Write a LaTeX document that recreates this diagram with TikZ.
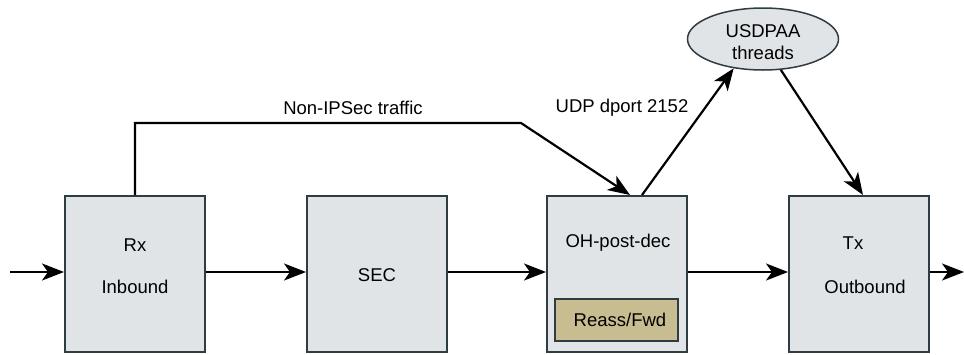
\documentclass[tikz,border=0pt]{standalone}
\usepackage{fontspec}
\setmainfont{Liberation Sans}
\usetikzlibrary{arrows.meta,shapes.geometric,calc}
\definecolor{boxfill}{HTML}{E0E4E7}
\definecolor{boxline}{HTML}{2E3C43}
\definecolor{tan}{HTML}{C8BD90}
\tikzset{
  blk/.style={draw=boxline,line width=2pt,fill=boxfill,minimum width=140pt,minimum height=156pt,inner sep=0pt},
  lbl/.style={font=\fontsize{18.5}{22}\selectfont,inner sep=0pt},
  conn/.style={line width=2.2pt,-{Stealth[length=22pt,width=17pt,inset=6pt]}},
  plain/.style={line width=2.2pt}
}
\begin{document}
\begin{tikzpicture}[x=1pt,y=-1pt]
\useasboundingbox (0,0) rectangle (964,354);
\node[blk] (rx) at (135,274) {};
\node[blk] (sec) at (377,274) {};
\node[blk] (oh) at (617,274) {};
\node[blk] (tx) at (859,274) {};
\node[draw=boxline,line width=1.5pt,fill=tan,minimum width=123pt,minimum height=42pt,inner sep=0pt] (reass) at (616.5,320) {};
\node[draw=boxline,line width=1.5pt,fill=boxfill,ellipse,minimum width=151pt,minimum height=62pt,inner sep=0pt] (usd) at (763,39) {};

\node[lbl] (rxt) at (135,245) {Rx};
\node[lbl] (rxi) at (135,287) {Inbound};
\node[lbl] (sect) at (377,275) {SEC};
\node[lbl] (oht) at (618,243) {OH-post-dec};
\node[lbl] (rt) at (620,320) {Reass/Fwd};
\node[lbl] (txt) at (853,243) {Tx};
\node[lbl] (txo) at (865,287) {Outbound};
\node[lbl] (u1) at (763,31) {USDPAA};
\node[lbl] (u2) at (763,53) {threads};
\node[lbl] (nonip) at (353,108) {Non-IPSec traffic};
\node[lbl] (udp) at (622,108) {UDP dport 2152};

\coordinate (in) at (10,272);
\coordinate (out) at (964,272);
\coordinate (corner) at (521,123);

\draw[conn] (in) -- (in -| rx.west);
\draw[conn] (rx.east |- in) -- (sec.west |- in);
\draw[conn] (sec.east |- in) -- (oh.west |- in);
\draw[conn] (oh.east |- in) -- (tx.west |- in);
\draw[conn] (tx.east |- in) -- (out);

\draw[conn] (rx.north) |- (corner) -- ([xshift=13pt]oh.north);
\draw[conn] ([xshift=25pt]oh.north) -- (usd.225);
\draw[conn] (usd.300) -- ([xshift=4pt]tx.north);
\end{tikzpicture}
\end{document}
